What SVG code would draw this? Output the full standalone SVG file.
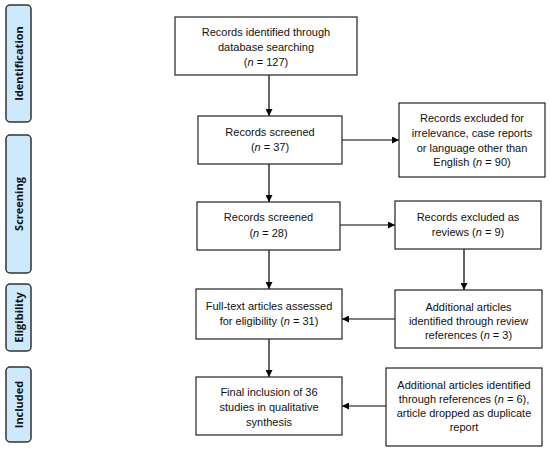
<svg xmlns="http://www.w3.org/2000/svg" width="550" height="454" viewBox="0 0 550 454">
<defs>
<marker id="ah" viewBox="0 0 10 10" refX="10" refY="5" markerWidth="7" markerHeight="7" markerUnits="userSpaceOnUse" orient="auto">
<path d="M0,0 L10,5 L0,10 z" fill="#000"/>
</marker>
<style>
.box{fill:#fff;stroke:#222;stroke-width:1.2}
.side{fill:#cde9fb;stroke:#333;stroke-width:1.5}
.t{font-family:"Liberation Sans",Arial,sans-serif;font-size:11px;fill:#111;text-anchor:middle}
.s{font-family:"Open Sans","Liberation Sans",sans-serif;font-size:11px;font-weight:bold;fill:#111;text-anchor:middle}
.c{stroke:#000;stroke-width:1.2;fill:none;marker-end:url(#ah)}
</style>
</defs>
<rect width="550" height="454" fill="#fff"/>
<g id="side-identification"><rect class="side" x="6" y="5" width="25" height="117" rx="4"/><text class="s" transform="translate(22.5,63.5) rotate(-90)">Identification</text></g>
<g id="side-screening"><rect class="side" x="6" y="135" width="25" height="138" rx="4"/><text class="s" transform="translate(22.5,204) rotate(-90)">Screening</text></g>
<g id="side-eligibility"><rect class="side" x="6" y="284" width="25" height="67" rx="4"/><text class="s" transform="translate(22.5,317.5) rotate(-90)">Eligibility</text></g>
<g id="side-included"><rect class="side" x="6" y="367" width="25" height="75" rx="4"/><text class="s" transform="translate(22.5,404.5) rotate(-90)">Included</text></g>

<g id="connectors">
<line class="c" x1="269" y1="75" x2="269" y2="116"/>
<line class="c" x1="342" y1="140" x2="399" y2="140"/>
<line class="c" x1="269" y1="164" x2="269" y2="202"/>
<line class="c" x1="340" y1="225" x2="395" y2="225"/>
<line class="c" x1="269" y1="250" x2="269" y2="289"/>
<line class="c" x1="464" y1="249" x2="464" y2="290"/>
<line class="c" x1="395" y1="319" x2="342" y2="319"/>
<line class="c" x1="269" y1="339" x2="269" y2="377"/>
<line class="c" x1="386" y1="406" x2="342" y2="406"/>
</g>

<g id="n1"><rect class="box" x="175" y="17" width="182" height="58"/>
<text class="t" x="266" y="36">Records identified through</text>
<text class="t" x="266" y="51">database searching</text>
<text class="t" x="266" y="66">(<tspan font-style="italic">n</tspan> = 127)</text></g>

<g id="n2"><rect class="box" x="198" y="116" width="144" height="48"/>
<text class="t" x="270" y="136">Records screened</text>
<text class="t" x="270" y="151">(<tspan font-style="italic">n</tspan> = 37)</text></g>

<g id="r1"><rect class="box" x="399" y="103" width="146" height="74"/>
<text class="t" x="472" y="122">Records excluded for</text>
<text class="t" x="472" y="137">irrelevance, case reports</text>
<text class="t" x="472" y="152">or language other than</text>
<text class="t" x="472" y="166">English (<tspan font-style="italic">n</tspan> = 90)</text></g>

<g id="n3"><rect class="box" x="197" y="202" width="143" height="48"/>
<text class="t" x="268.5" y="221">Records screened</text>
<text class="t" x="268.5" y="237">(<tspan font-style="italic">n</tspan> = 28)</text></g>

<g id="r2"><rect class="box" x="395" y="201" width="146" height="48"/>
<text class="t" x="468" y="221">Records excluded as</text>
<text class="t" x="468" y="236">reviews (<tspan font-style="italic">n</tspan> = 9)</text></g>

<g id="n4"><rect class="box" x="196" y="289" width="146" height="50"/>
<text class="t" x="269" y="310">Full-text articles assessed</text>
<text class="t" x="269" y="325">for eligibility (<tspan font-style="italic">n</tspan> = 31)</text></g>

<g id="r3"><rect class="box" x="395" y="290" width="147" height="58"/>
<text class="t" x="468.5" y="311">Additional articles</text>
<text class="t" x="468.5" y="325">identified through review</text>
<text class="t" x="468.5" y="339">references (<tspan font-style="italic">n</tspan> = 3)</text></g>

<g id="n5"><rect class="box" x="196" y="377" width="146" height="58"/>
<text class="t" x="269" y="396">Final inclusion of 36</text>
<text class="t" x="269" y="411">studies in qualitative</text>
<text class="t" x="269" y="426">synthesis</text></g>

<g id="r4"><rect class="box" x="386" y="368" width="156" height="78"/>
<text class="t" x="464" y="389">Additional articles identified</text>
<text class="t" x="464" y="403">through references (<tspan font-style="italic">n</tspan> = 6),</text>
<text class="t" x="464" y="417">article dropped as duplicate</text>
<text class="t" x="464" y="431">report</text></g>
</svg>
